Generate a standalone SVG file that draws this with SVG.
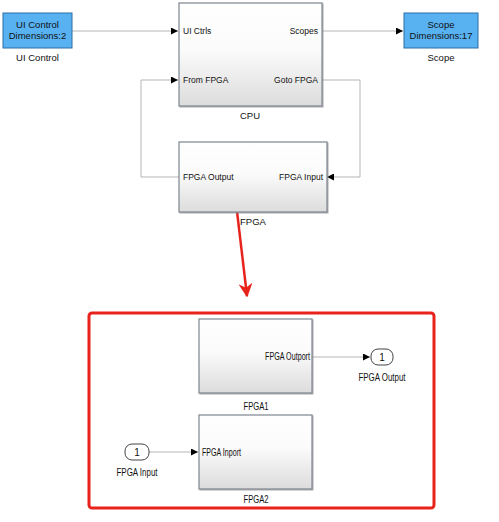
<svg xmlns="http://www.w3.org/2000/svg" width="499" height="522" viewBox="0 0 499 522">
<style>
text{font-family:"Liberation Sans",Arial,sans-serif;font-size:9.5px;fill:#111}
.blk{fill:url(#g);stroke:#7d8590;stroke-width:1.2}
.blue{fill:#58b2f2;stroke:#2b6ea8;stroke-width:1}
.w{fill:none;stroke:#b5b5b5;stroke-width:1}
.c{text-anchor:middle}
.e{text-anchor:end}
.port{fill:#fff;stroke:#444;stroke-width:1}
.sm{font-size:8.5px}
.lo{font-size:10px}
</style>
<defs>
<linearGradient id="g" x1="0" y1="0" x2="0" y2="1">
<stop offset="0" stop-color="#ffffff"/>
<stop offset="0.45" stop-color="#fbfbfb"/>
<stop offset="1" stop-color="#dcdcdc"/>
</linearGradient>
<filter id="sh" x="-5%" y="-5%" width="115%" height="115%">
<feDropShadow dx="1" dy="1" stdDeviation="0.6" flood-color="#888" flood-opacity="0.6"/>
</filter>
<marker id="ar" viewBox="0 0 10 10" refX="10" refY="5" markerWidth="7" markerHeight="7" markerUnits="userSpaceOnUse" orient="auto">
<path d="M0,0 L10,5 L0,10 z" fill="#000"/>
</marker>
<marker id="red" viewBox="0 0 10 10" refX="9" refY="5" markerWidth="14" markerHeight="14" markerUnits="userSpaceOnUse" orient="auto">
<path d="M0,0 L10,5 L0,10 L3,5 z" fill="#e8231c"/>
</marker>
</defs>

<g id="connectors">
<path class="w" d="M72,31 H178" marker-end="url(#ar)"/>
<path class="w" d="M322,31 H403" marker-end="url(#ar)"/>
<path class="w" d="M322,80 H360 V177 H327" marker-end="url(#ar)"/>
<path class="w" d="M179,177 H141 V80 H178" marker-end="url(#ar)"/>
<path class="w" d="M312,357 H370" marker-end="url(#ar)"/>
<path class="w" d="M149,452 H198" marker-end="url(#ar)"/>
<path d="M234,186 L247,296" stroke="#e8231c" stroke-width="2.5" fill="none" marker-end="url(#red)"/>
</g>

<g id="ui-control">
<rect class="blue" x="3" y="13" width="69" height="35"/>
<text class="c" x="37.5" y="28">UI Control</text>
<text class="c" x="37.5" y="39">Dimensions:2</text>
<text class="c" x="37.5" y="61">UI Control</text>
</g>

<g id="cpu">
<rect class="blk" x="179" y="3" width="143" height="103" filter="url(#sh)"/>
<text x="183" y="34" class="sm">UI Ctrls</text>
<text x="183" y="83" class="sm">From FPGA</text>
<text class="e sm" x="318" y="34">Scopes</text>
<text class="e sm" x="318" y="83">Goto FPGA</text>
<text class="c" x="250" y="119">CPU</text>
</g>

<g id="scope">
<rect class="blue" x="404" y="13" width="74" height="35"/>
<text class="c" x="441" y="28">Scope</text>
<text class="c" x="441" y="39">Dimensions:17</text>
<text class="c" x="441" y="61">Scope</text>
</g>

<g id="fpga">
<rect class="blk" x="179" y="142" width="148" height="70" filter="url(#sh)"/>
<text x="183" y="180" class="sm">FPGA Output</text>
<text class="e sm" x="323" y="180">FPGA Input</text>
<text class="c" x="253" y="225">FPGA</text>
</g>

<g id="subsystem">
<rect x="89" y="313" width="345" height="195" rx="3" fill="none" stroke="#e8231c" stroke-width="3"/>
</g>

<g id="fpga1">
<rect class="blk" x="199" y="319" width="113" height="74" filter="url(#sh)"/>
<text class="lo" x="265" y="360" textLength="45" lengthAdjust="spacingAndGlyphs">FPGA Outport</text>
<text class="c lo" x="256" y="410" textLength="25" lengthAdjust="spacingAndGlyphs">FPGA1</text>
</g>

<g id="fpga-output">
<rect class="port" x="371" y="349" width="22" height="16" rx="7"/>
<text class="c lo" x="382" y="361">1</text>
<text class="c lo" x="382" y="381" textLength="47" lengthAdjust="spacingAndGlyphs">FPGA Output</text>
</g>

<g id="fpga2">
<rect class="blk" x="199" y="415" width="113" height="74" filter="url(#sh)"/>
<text class="lo" x="202" y="456" textLength="39" lengthAdjust="spacingAndGlyphs">FPGA Inport</text>
<text class="c lo" x="256" y="503" textLength="25" lengthAdjust="spacingAndGlyphs">FPGA2</text>
</g>

<g id="fpga-input">
<rect class="port" x="125" y="444" width="24" height="16" rx="7"/>
<text class="c lo" x="137" y="456">1</text>
<text class="c lo" x="137" y="476" textLength="41" lengthAdjust="spacingAndGlyphs">FPGA Input</text>
</g>
</svg>
